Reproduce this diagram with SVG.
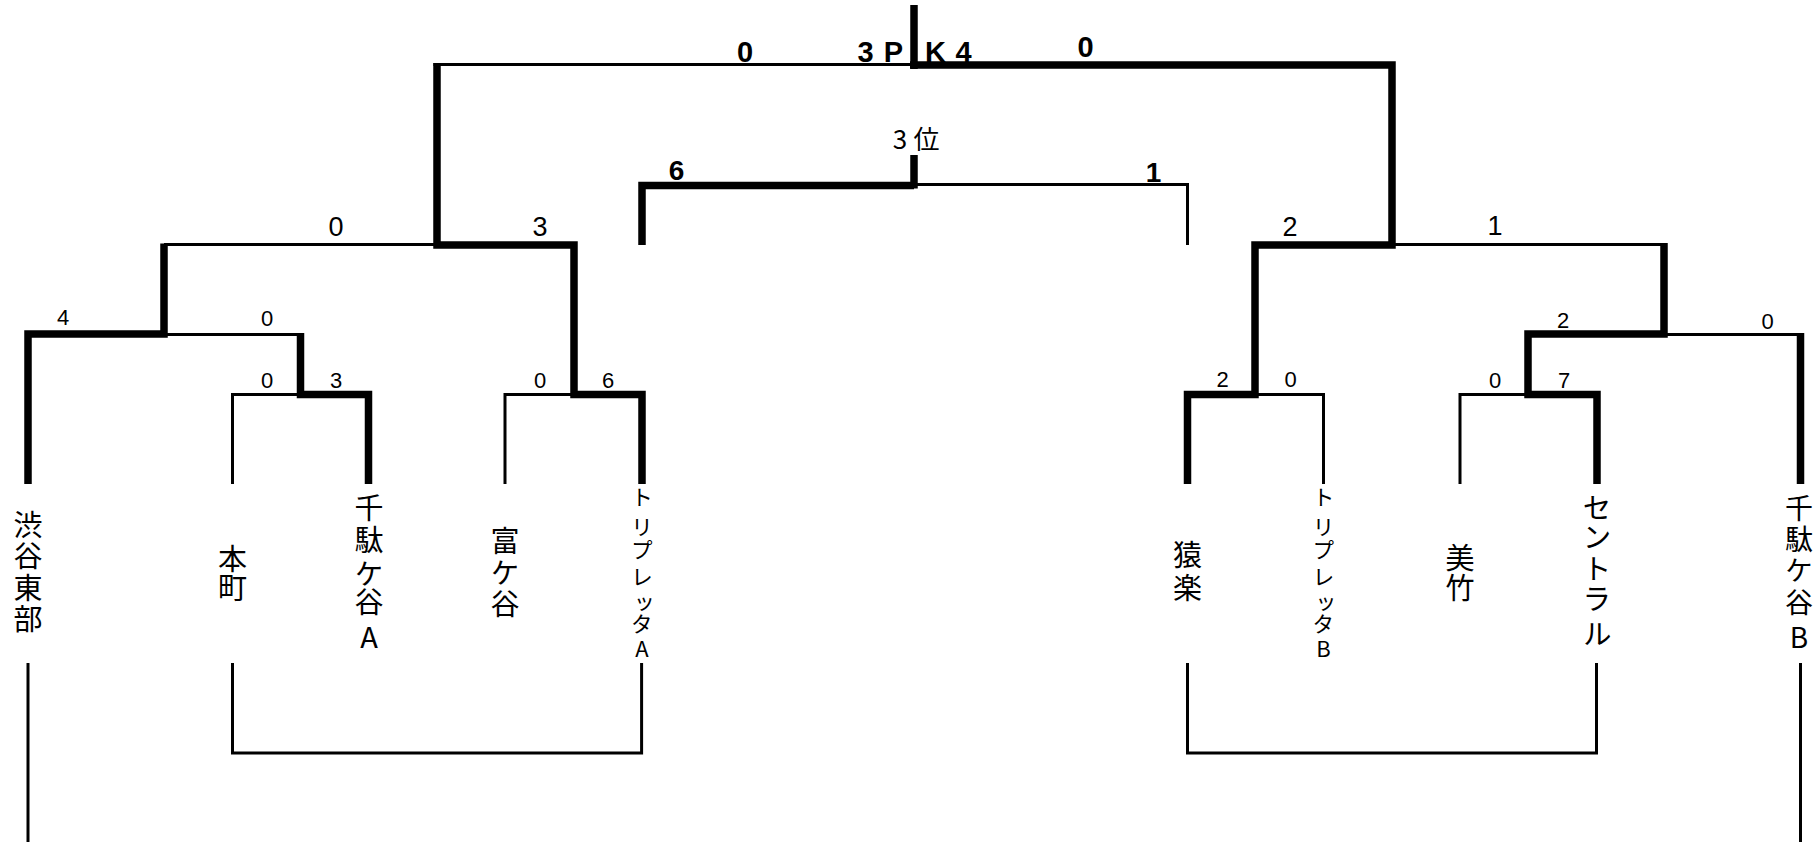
<svg xmlns="http://www.w3.org/2000/svg" width="1816" height="842" viewBox="0 0 1816 842">
<style>
.thick{fill:none;stroke:#000;stroke-width:7.5;stroke-linejoin:miter;stroke-linecap:butt}
.thin{fill:none;stroke:#000;stroke-width:3;stroke-linejoin:miter;stroke-linecap:butt}
.sc{font-family:"Liberation Sans",Arial,sans-serif;text-anchor:middle;fill:#000}
.s22{font-size:22px}
.s27{font-size:27px}
.s28{font-size:28px;font-weight:bold}
.s29{font-size:29px;font-weight:bold}
.nm{font-family:"Noto Sans CJK JP","Noto Sans CJK SC",sans-serif;font-size:29px;text-anchor:middle;fill:#000;writing-mode:vertical-rl;text-orientation:upright}
.nms{font-size:22px}
.lbl{font-family:"Noto Sans CJK JP","Noto Sans CJK SC",sans-serif;font-size:26px;text-anchor:middle;fill:#000}
</style>
<rect x="0" y="0" width="1816" height="842" fill="#fff"/>
<g id="connectors">
  <path class="thick" d="M368.5 484 V394.5 H300.5 V333"/>
  <path class="thick" d="M28 484 V334 H164 V243.5"/>
  <path class="thick" d="M642 484 V394.5 H574 V245 H437 V63"/>
  <path class="thick" d="M642 245 V185.5 H914"/>
  <path class="thick" d="M914 155 V188.5"/>
  <path class="thick" d="M914 5 V69"/>
  <path class="thin" d="M232.5 484 V394.5 H300.5"/>
  <path class="thin" d="M505 484 V394.5 H574"/>
  <path class="thin" d="M164 334.5 H300.5"/>
  <path class="thin" d="M164 244.5 H437"/>
  <path class="thin" d="M433.5 64.5 H914"/>
  <path class="thin" d="M914 184.5 H1187.5 V245"/>
  <path class="thick" d="M1187.5 484 V394.5 H1255 V245 H1392 V65 H910"/>
  <path class="thick" d="M1597 484 V394.5 H1528 V334 H1664 V243"/>
  <path class="thick" d="M1800.5 484 V333"/>
  <path class="thin" d="M1255 394.5 H1323.5 V484"/>
  <path class="thin" d="M1460 484 V394.5 H1528"/>
  <path class="thin" d="M1664 334.5 H1802"/>
  <path class="thin" d="M1392 244.5 H1664"/>
  <path class="thin" d="M28 663 V842"/>
  <path class="thin" d="M232.5 663 V753 H641.6 V663"/>
  <path class="thin" d="M1187.5 663 V753 H1596.5 V663"/>
  <path class="thin" d="M1800.5 663 V842"/>
</g>
<g id="scores">
  <text class="sc s29" x="745" y="62">0</text>
  <text class="sc s29" x="865.5 893.5 935.5 963.5" y="62">3PK4</text>
  <text class="sc s29" x="1085.5" y="57">0</text>
  <text class="lbl" x="900 926.5" y="149">3位</text>
  <text class="sc s28" x="676.5" y="180">6</text>
  <text class="sc s28" x="1153.5" y="182">1</text>
  <text class="sc s27" x="336" y="236">0</text>
  <text class="sc s27" x="540" y="236">3</text>
  <text class="sc s27" x="1290" y="236">2</text>
  <text class="sc s27" x="1495" y="235">1</text>
  <text class="sc s22" x="63" y="325">4</text>
  <text class="sc s22" x="267" y="326">0</text>
  <text class="sc s22" x="1563" y="328">2</text>
  <text class="sc s22" x="1767.5" y="329">0</text>
  <text class="sc s22" x="267" y="388">0</text>
  <text class="sc s22" x="336" y="388">3</text>
  <text class="sc s22" x="540" y="388">0</text>
  <text class="sc s22" x="608" y="388">6</text>
  <text class="sc s22" x="1222.5" y="387">2</text>
  <text class="sc s22" x="1290.5" y="387">0</text>
  <text class="sc s22" x="1495" y="388">0</text>
  <text class="sc s22" x="1564" y="388">7</text>
</g>
<g id="team-shibuyahigashi">
  <text class="nm" x="28" y="525 556 587.5 619">渋谷東部</text>
</g>
<g id="team-honmachi">
  <text class="nm" x="232.5" y="559 588">本町</text>
</g>
<g id="team-sendagaya-a">
  <text class="nm" x="369" y="508 540 574 602 637">千駄ケ谷A</text>
</g>
<g id="team-tomigaya">
  <text class="nm" x="505" y="541 573 604">富ケ谷</text>
</g>
<g id="team-tripletta-a">
  <text class="nm nms" x="642" y="497 527 550 577 604 624 648.5">トリプレッタA</text>
</g>
<g id="team-sarugaku">
  <text class="nm" x="1187.5" y="555 588">猿楽</text>
</g>
<g id="team-tripletta-b">
  <text class="nm nms" x="1323.5" y="497 527 550 577 604 624 649">トリプレッタB</text>
</g>
<g id="team-mitake">
  <text class="nm" x="1460" y="558 588">美竹</text>
</g>
<g id="team-central">
  <text class="nm" x="1597" y="508 537 569 599 634">セントラル</text>
</g>
<g id="team-sendagaya-b">
  <text class="nm" x="1799" y="508 539 570 602 637" style="font-size:28px">千駄ケ谷B</text>
</g>
</svg>
